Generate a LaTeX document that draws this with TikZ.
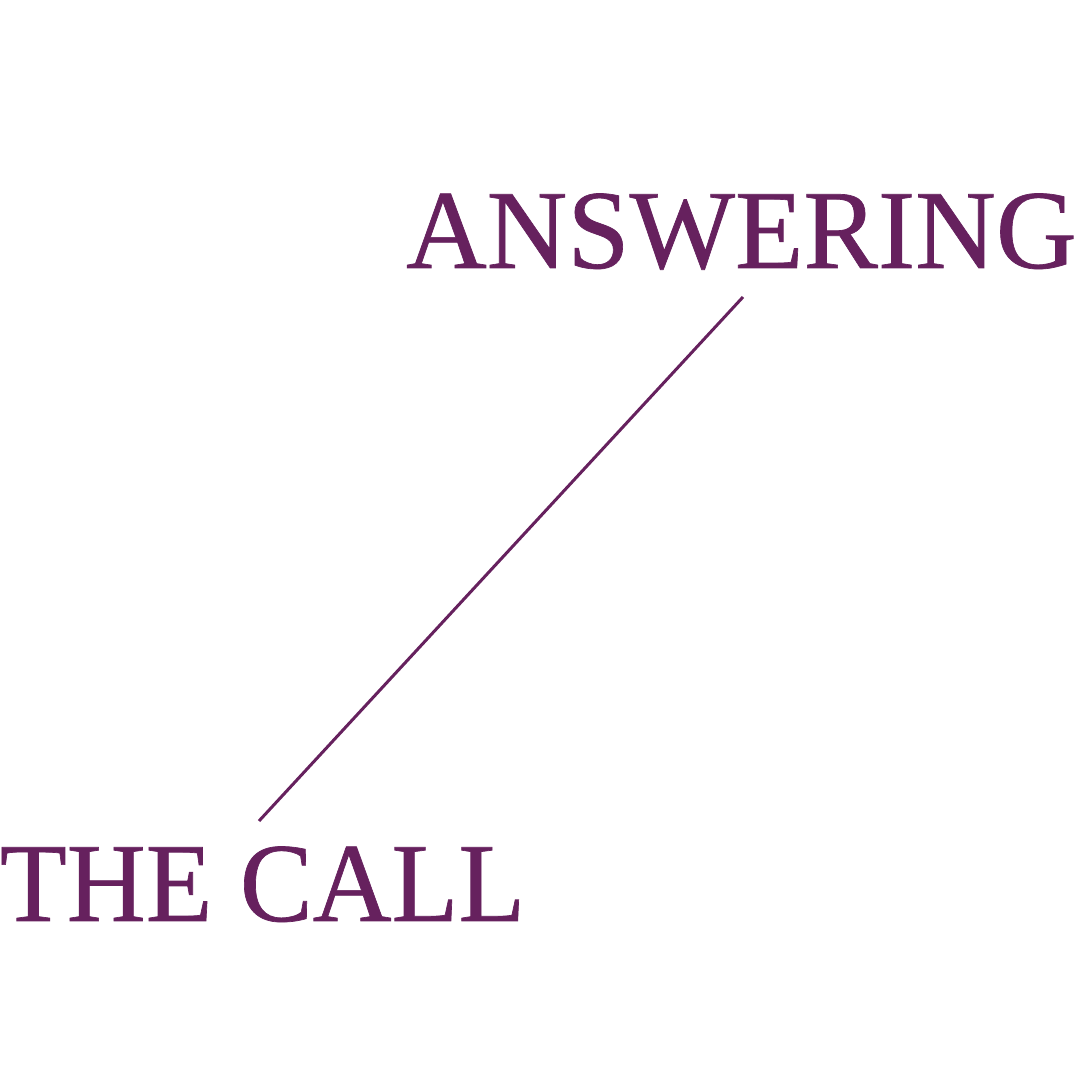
\documentclass[tikz,border=0pt]{standalone}
\usepackage{fontspec}
\setmainfont{Liberation Serif}
\newfontfamily\heavyserif[FakeBold=0.6]{Liberation Serif}
\definecolor{plum}{RGB}{102,33,94}
\tikzset{
  title/.style={inner sep=0pt, outer sep=0pt, text=plum, anchor=base west,
    font=\heavyserif\fontsize{113}{113}\selectfont},
  link/.style={draw=plum, line width=3bp}
}
\begin{document}
\begin{tikzpicture}[x=1bp,y=1bp]
\useasboundingbox[fill=white] (0,0) rectangle (1080,1080);
\node[title] (ans) at (406,812) {\scalebox{0.993}[1]{ANSWERING}};
\node[title] (call) at (0,159) {\scalebox{0.971}[1]{THE CALL}};
\coordinate (top) at (743,783);
\coordinate (bot) at (259,259);
\draw[link] (top) -- (bot);
\end{tikzpicture}
\end{document}
